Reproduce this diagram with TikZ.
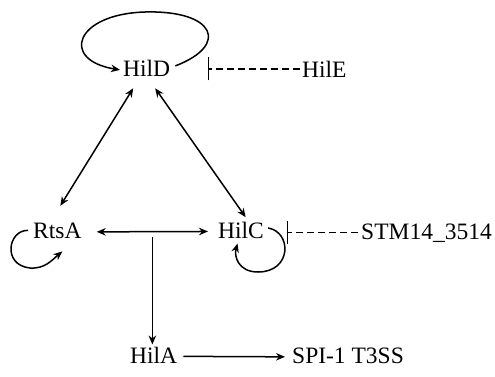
\documentclass[tikz,border=0pt]{standalone}
\usepackage{fontspec}
\setmainfont{Liberation Serif}
\usetikzlibrary{arrows.meta}
\begin{document}
\begin{tikzpicture}[x=1pt, y=-1pt,
        >={Stealth[length=9pt, width=7.5pt]},
        gene/.style={anchor=base west, inner sep=0pt, font=\fontsize{23.5}{26}\selectfont},
        link/.style={line width=1.5pt},
        repress/.style={line width=1.4pt, dash pattern=on 7pt off 4pt, -{Bar[width=23pt]}}]
        \useasboundingbox (0,0) rectangle (495,376);

        % genes
        \node[gene] (hild) at (123,76) {HilD};
        \node[gene] (hile) at (302,77) {HilE};
        \node[gene] (rtsa) at (33,238) {RtsA};
        \node[gene] (hilc) at (218,238) {HilC};
        \node[gene] (stm) at (361,239) {STM14\_3514};
        \node[gene] (hila) at (130,363) {HilA};
        \node[gene] (spi) at (292,363) {SPI-1 T3SS};

        % HilD
        \draw[link, ->] ([shift={(5,-2)}]hild.east) .. controls (230,45) and (215,10) .. (145,12)
            .. controls (75,14) and (60,60) .. ([shift={(-3,2)}]hild.west);
        \coordinate (hdbar) at (208,70);
        \draw[repress] ([xshift=-2pt]hile.west) -- (hile.west -| hdbar);

        % triangle
        \draw[link, <->] ([shift={(-13.5,12)}]hild.south) -- ([shift={(3,-16.5)}]rtsa.north);
        \draw[link, <->] ([shift={(8.5,12)}]hild.south) -- ([shift={(4.6,-4.3)}]hilc.north);
        \draw[link, <->] ([shift={(15,1.5)}]rtsa.east) -- ([shift={(-10,1.5)}]hilc.west)
            coordinate[pos=0.5] (junc);

        % RtsA
        \draw[link, ->] ([xshift=-5pt]rtsa.west) .. controls (8,230) and (2,265) .. (30,268)
            .. controls (45,269) and (52,260) .. ([shift={(5,13)}]rtsa.south);

        % HilC
        \draw[link, ->] ([shift={(4,-2)}]hilc.east) .. controls (292,232) and (292,272) .. (258,272)
            .. controls (238,272) and (234,256) .. ([shift={(-3.5,5)}]hilc.south);
        \coordinate (hcbar) at (287,0);
        \draw[repress] ([xshift=-3pt]stm.west) -- (stm.west -| hcbar);

        % HilA
        \draw[link, ->, shorten <=5pt, shorten >=2pt] (junc) -- (junc |- hila.north);
        \draw[link, ->] ([shift={(6,1.5)}]hila.east) -- ([shift={(-7,1.5)}]spi.west);
    \end{tikzpicture}
\end{document}
